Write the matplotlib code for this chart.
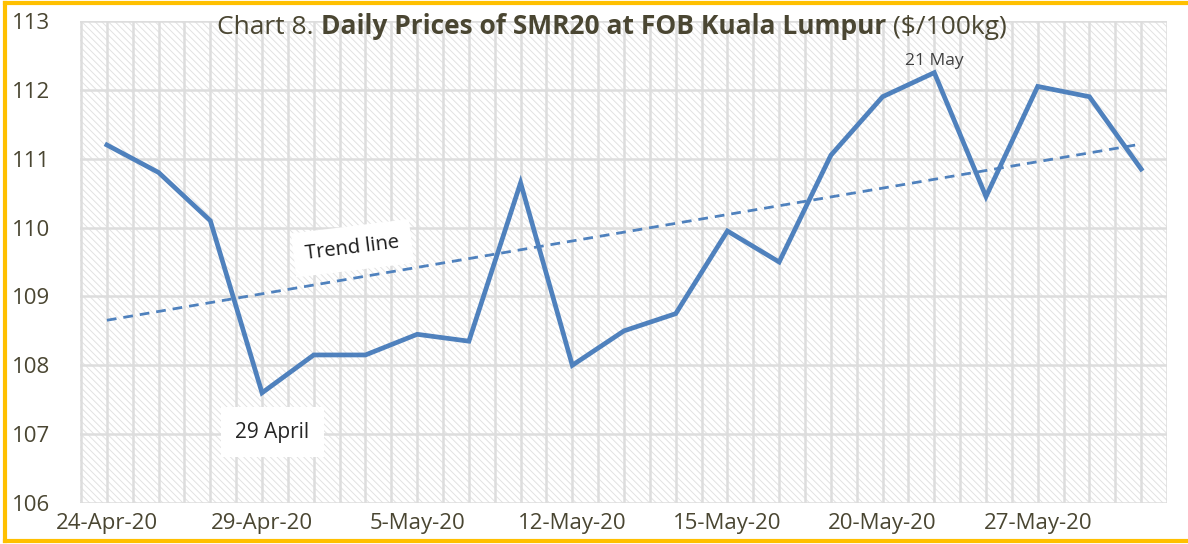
import numpy as np
import matplotlib.pyplot as plt
from matplotlib.patches import Rectangle
from matplotlib.lines import Line2D

# trading days shown on the chart
dates = ['24-Apr-20', '27-Apr-20', '28-Apr-20', '29-Apr-20', '30-Apr-20', '4-May-20',
         '5-May-20', '6-May-20', '8-May-20', '12-May-20', '13-May-20', '14-May-20',
         '15-May-20', '18-May-20', '19-May-20', '20-May-20', '21-May-20', '22-May-20',
         '27-May-20', '28-May-20', '29-May-20']
prices = [111.2, 110.8, 110.1, 107.6, 108.15, 108.15, 108.45, 108.35, 110.65, 108.0,
          108.5, 108.75, 109.95, 109.5, 111.05, 111.9, 112.25, 110.45, 112.05, 111.9, 110.85]
yticks = [106, 107, 108, 109, 110, 111, 112, 113]
title_parts = [('Chart 8. ', 'normal'), ('Daily Prices of SMR20 at FOB Kuala Lumpur ', 'bold'),
               ('($/100kg)', 'normal')]

blue = '#4F81BD'
txt = '#4A4632'
plt.rcParams['font.family'] = ['Open Sans', 'DejaVu Sans']
plt.rcParams['hatch.linewidth'] = 0.7

fig = plt.figure(figsize=(11.88, 5.44), dpi=100)
ax = fig.add_axes([80 / 1188, 1 - 503 / 544, (1167 - 80) / 1188, (503 - 21) / 544])

x = np.arange(len(prices))
ax.set_xlim(-0.52, len(prices) - 0.5)
ax.set_ylim(106, 113)

# hatched plot background
ax.add_patch(Rectangle((0, 0), 1, 1, transform=ax.transAxes, facecolor='white',
                       hatch='\\\\\\\\\\', edgecolor='#e2e2e2', linewidth=0, zorder=0))

# grid lines
for g in np.arange(-0.5, len(prices), 0.5):
    ax.axvline(g, color='#dddddd', lw=1.8, zorder=1)
for t in yticks:
    ax.axhline(t, color='#dddddd', lw=1.8, zorder=1)

# price line and linear trend
ax.plot(x, prices, color=blue, lw=3.4, solid_joinstyle='miter', zorder=4)
k, b = np.polyfit(x, prices, 1)
ax.plot(x, k * x + b, color=blue, lw=2, ls=(0, (3.5, 2.5)), zorder=3)

ax.set_yticks(yticks)
ax.set_xticks(x[::3])
ax.set_xticklabels(dates[::3])
ax.tick_params(length=0, labelsize=16, labelcolor=txt)
ax.tick_params(axis='y', pad=49)
ax.tick_params(axis='x', pad=7)
for lbl in ax.get_yticklabels():
    lbl.set_horizontalalignment('left')
for s in ax.spines.values():
    s.set_visible(False)

# title, mixed weight, pieces placed one after another and centred as a whole
fig.canvas.draw()
r = fig.canvas.get_renderer()
pieces = []
total = 0
for part, w in title_parts:
    t = fig.text(0, 1 - 27 / 544, part, fontsize=19, fontweight=w, color=txt, va='center')
    wd = t.get_window_extent(renderer=r).width
    pieces.append((t, wd))
    total += wd
xpos = 612 - total / 2
for t, wd in pieces:
    t.set_x(xpos / 1188)
    xpos += wd

# annotations
ax.text(16, 112.42, '21 May', fontsize=12.5, color='#404040', ha='center', va='center', zorder=6)
ax.text(3.2, 107.03, '29 April', fontsize=15, color='#262626', ha='center', va='center', zorder=6,
        bbox=dict(boxstyle='square,pad=0.7', fc='white', ec='none'))
ax.text(4.75, 109.7, 'Trend line', fontsize=14.5, color='#1a1a1a', ha='center', va='center',
        rotation=7, zorder=6, bbox=dict(boxstyle='square,pad=0.6', fc='white', ec='none'))

# yellow frame
for xs, ys in [([5, 1188], [3, 3]), ([5, 1188], [541, 541]), ([5, 5], [3, 541])]:
    fig.add_artist(Line2D([v / 1188 for v in xs], [1 - v / 544 for v in ys],
                          color='#FFC000', lw=3))

fig.savefig('out.png', dpi=100, facecolor='white')
